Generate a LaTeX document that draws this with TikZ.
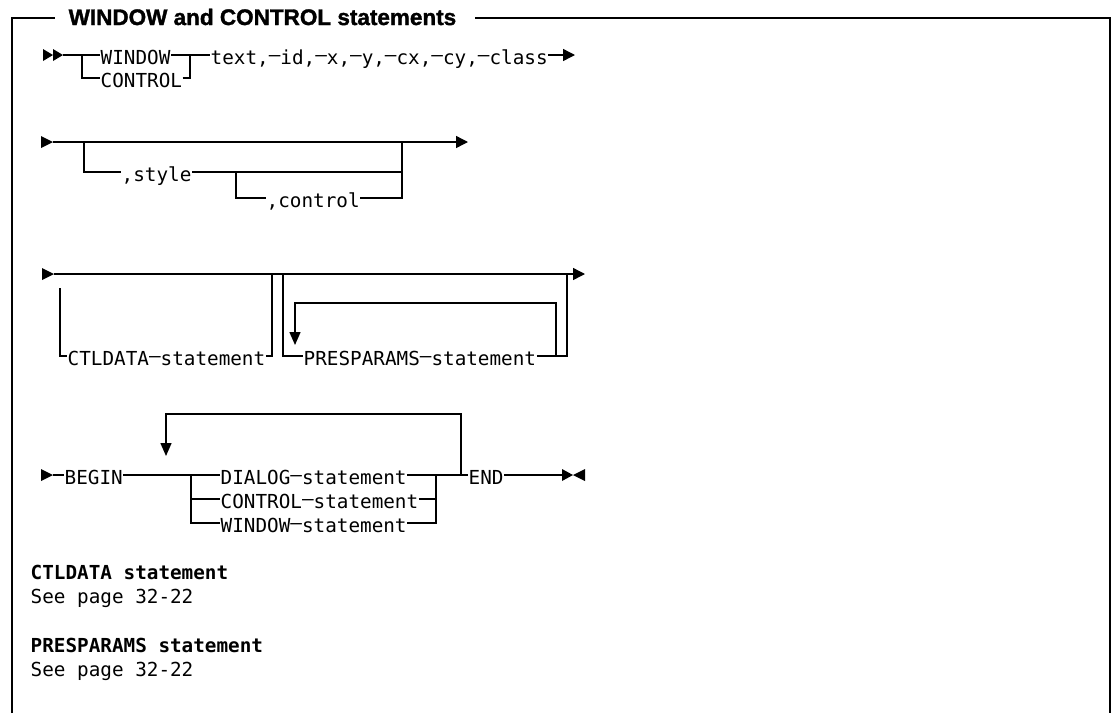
\documentclass[tikz,border=0pt]{standalone}
\usepackage{fontspec}
\usepackage{graphicx}
\newfontfamily\monofont{DejaVu Sans Mono}
\newfontfamily\titlefont{Liberation Sans}[BoldFeatures={FakeBold=1.5}]
\usetikzlibrary{arrows.meta}
\newcommand\dsh{\raisebox{2.8pt}{—}}
\begin{document}
\begin{tikzpicture}[x=1pt,y=-1pt,line width=1.4pt,
  lbl/.style={font=\monofont\fontsize{19.3}{22}\selectfont,inner sep=0pt,text height=18pt,text depth=0pt,anchor=west},
  note/.style={font=\monofont\fontsize{19.3}{22}\selectfont,inner sep=0pt,anchor=base west},
  tip/.style={-{Triangle[length=12pt,width=12pt]}},
  downtip/.style={-{Triangle[length=13pt,width=11pt]}},
  frame/.style={line width=1.6pt}]
\useasboundingbox (0,0) rectangle (1113,713);
% frame and title
\node[anchor=base west,inner sep=0pt,font=\titlefont\bfseries\fontsize{22.5}{26}\selectfont] (title) at (68,25) {WINDOW and CONTROL statements};
\draw[frame] (12,713) -- (12,18) -- (55,18);
\draw[frame] (475,18) -- (1110,18) -- (1110,713);

% ---------- row 1
\fill (43,49) -- (53,55) -- (43,61) -- cycle;
\fill (53,49) -- (63,55) -- (53,61) -- cycle;
\coordinate (r1s) at (63,55);
\coordinate (r1f) at (82,55);
\coordinate (r1j) at (190,55);
\coordinate (r1e) at (575,55);
\node[lbl] (win1) at (100,55) {WINDOW};
\node[lbl] (ctl1) at (100,78) {CONTROL};
\node[lbl] (txt) at (210,55) {text,\dsh id,\dsh x,\dsh y,\dsh cx,\dsh cy,\dsh class};
\draw (r1s) -- (win1.west);
\draw (win1.east) -- (txt.west);
\draw (r1f) |- (ctl1.west);
\draw (ctl1.east) -| (r1j);
\draw[tip] (txt.east) -- (r1e);

% ---------- row 2
\fill (41,136) -- (53,142) -- (41,148) -- cycle;
\coordinate (r2s) at (53,142);
\coordinate (r2e) at (468,142);
\coordinate (r2a) at (84,142);
\coordinate (r2b) at (402,142);
\coordinate (r2c) at (236,172);
\node[lbl] (sty) at (121,172) {,style};
\node[lbl] (ctlo) at (266,198) {,control};
\draw[tip] (r2s) -- (r2e);
\draw (r2a) |- (sty.west);
\draw (sty.east) -- (sty.east -| r2b);
\draw (r2c) |- (ctlo.west);
\draw (ctlo.east) -| (r2b);

% ---------- row 3
\fill (42,268) -- (54,274) -- (42,280) -- cycle;
\coordinate (r3s) at (54,274);
\coordinate (r3e) at (585,274);
\coordinate (r3a) at (60,288);
\coordinate (r3b) at (272,274);
\coordinate (r3c) at (283,274);
\coordinate (r3d) at (567,274);
\coordinate (r3l) at (556,303);
\coordinate (r3k) at (295,303);
\coordinate (r3t) at (295,345);
\node[lbl] (ctld) at (67,356) {CTLDATA\dsh statement};
\node[lbl] (pres) at (303,356) {PRESPARAMS\dsh statement};
\draw[tip] (r3s) -- (r3e);
\draw (r3a) |- (ctld.west);
\draw (ctld.east) -| (r3b);
\draw (r3c) |- (pres.west);
\draw (pres.east) -| (r3d);
\draw[downtip] (pres.east -| r3l) |- (r3k) -- (r3t);

% ---------- row 4
\fill (41,469) -- (53,475) -- (41,481) -- cycle;
\coordinate (r4s) at (53,475);
\coordinate (r4f) at (191,475);
\coordinate (r4g) at (436,475);
\coordinate (r4h) at (461,475);
\coordinate (r4top) at (166,414);
\coordinate (r4tip) at (166,456);
\coordinate (r4e) at (562,475);
\node[lbl] (beg) at (64,475) {BEGIN};
\node[lbl] (dlg) at (220,475) {DIALOG\dsh statement};
\node[lbl] (ctl4) at (220,499) {CONTROL\dsh statement};
\node[lbl] (win4) at (220,523) {WINDOW\dsh statement};
\node[lbl] (endk) at (468,475) {END};
\draw (r4s) -- (beg.west);
\draw (beg.east) -- (dlg.west);
\draw (dlg.east) -- (endk.west);
\draw (r4f) |- (ctl4.west);
\draw (r4f) |- (win4.west);
\draw (ctl4.east) -| (r4g);
\draw (win4.east) -| (r4g);
\draw[downtip] (r4h) |- (r4top) -- (r4tip);
\draw (endk.east) -- (r4e);
\fill (562,469) -- (573,475) -- (562,481) -- cycle;
\fill (585,469) -- (573,475) -- (585,481) -- cycle;

% ---------- notes
\node[note,font=\monofont\bfseries\fontsize{19.3}{22}\selectfont] (n1) at (30,579) {CTLDATA statement};
\node[note] (n2) at (30,603) {See page 32-22};
\node[note,font=\monofont\bfseries\fontsize{19.3}{22}\selectfont] (n3) at (30,652) {PRESPARAMS statement};
\node[note] (n4) at (30,676) {See page 32-22};
\end{tikzpicture}
\end{document}
